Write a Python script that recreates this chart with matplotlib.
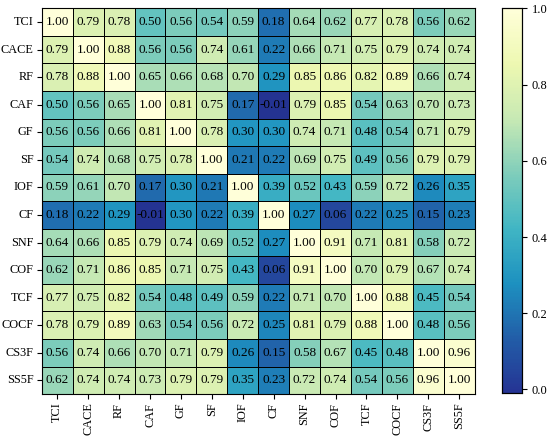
import numpy as np
import matplotlib.pyplot as plt
import seaborn as sns
from matplotlib.colors import LinearSegmentedColormap

labels = ['TCI', 'CACE', 'RF', 'CAF', 'GF', 'SF', 'IOF', 'CF',
          'SNF', 'COF', 'TCF', 'COCF', 'CS3F', 'SS5F']

corr = np.array([
    [1.00, 0.79, 0.78, 0.50, 0.56, 0.54, 0.59, 0.18, 0.64, 0.62, 0.77, 0.78, 0.56, 0.62],
    [0.79, 1.00, 0.88, 0.56, 0.56, 0.74, 0.61, 0.22, 0.66, 0.71, 0.75, 0.79, 0.74, 0.74],
    [0.78, 0.88, 1.00, 0.65, 0.66, 0.68, 0.70, 0.29, 0.85, 0.86, 0.82, 0.89, 0.66, 0.74],
    [0.50, 0.56, 0.65, 1.00, 0.81, 0.75, 0.17, -0.01, 0.79, 0.85, 0.54, 0.63, 0.70, 0.73],
    [0.56, 0.56, 0.66, 0.81, 1.00, 0.78, 0.30, 0.30, 0.74, 0.71, 0.48, 0.54, 0.71, 0.79],
    [0.54, 0.74, 0.68, 0.75, 0.78, 1.00, 0.21, 0.22, 0.69, 0.75, 0.49, 0.56, 0.79, 0.79],
    [0.59, 0.61, 0.70, 0.17, 0.30, 0.21, 1.00, 0.39, 0.52, 0.43, 0.59, 0.72, 0.26, 0.35],
    [0.18, 0.22, 0.29, -0.01, 0.30, 0.22, 0.39, 1.00, 0.27, 0.06, 0.22, 0.25, 0.15, 0.23],
    [0.64, 0.66, 0.85, 0.79, 0.74, 0.69, 0.52, 0.27, 1.00, 0.91, 0.71, 0.81, 0.58, 0.72],
    [0.62, 0.71, 0.86, 0.85, 0.71, 0.75, 0.43, 0.06, 0.91, 1.00, 0.70, 0.79, 0.67, 0.74],
    [0.77, 0.75, 0.82, 0.54, 0.48, 0.49, 0.59, 0.22, 0.71, 0.70, 1.00, 0.88, 0.45, 0.54],
    [0.78, 0.79, 0.89, 0.63, 0.54, 0.56, 0.72, 0.25, 0.81, 0.79, 0.88, 1.00, 0.48, 0.56],
    [0.56, 0.74, 0.66, 0.70, 0.71, 0.79, 0.26, 0.15, 0.58, 0.67, 0.45, 0.48, 1.00, 0.96],
    [0.62, 0.74, 0.74, 0.73, 0.79, 0.79, 0.35, 0.23, 0.72, 0.74, 0.54, 0.56, 0.96, 1.00],
])

plt.rcParams['font.family'] = ['Liberation Serif', 'DejaVu Serif']

# YlGnBu without its darkest navy end, reversed
base = plt.get_cmap('YlGnBu')
cmap = LinearSegmentedColormap.from_list('ylgnbu_cut', base(np.linspace(0.875, 0.0, 256)))

fig = plt.figure(figsize=(5.5, 4.37), dpi=100)
ax = fig.add_axes([0.076, 0.098, 0.787, 0.883])
cax = fig.add_axes([0.913, 0.100, 0.036, 0.881])

sns.heatmap(corr, ax=ax, cbar_ax=cax, cmap=cmap, annot=True, fmt='.2f',
            annot_kws={'fontsize': 9.5, 'color': 'black'},
            linewidths=0.5, linecolor='black',
            xticklabels=labels, yticklabels=labels)

ax.tick_params(axis='x', labelsize=8.8, rotation=90, pad=2.5)
ax.tick_params(axis='y', labelsize=8.8, rotation=0, pad=2.5)
for s in ax.spines.values():
    s.set_visible(True)
    s.set_linewidth(0.8)
cax.tick_params(labelsize=9)
for s in cax.spines.values():
    s.set_visible(True)
    s.set_linewidth(0.8)

plt.savefig('out.png', dpi=100)
